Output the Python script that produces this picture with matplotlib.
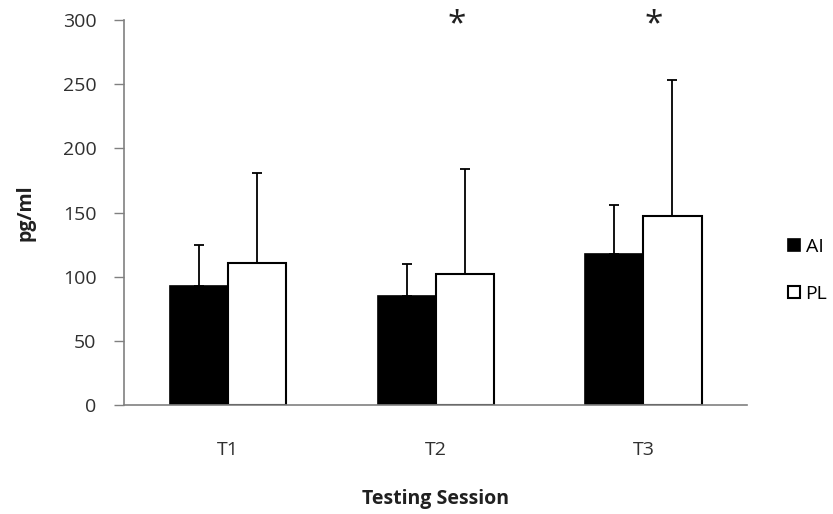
import numpy as np
import matplotlib
matplotlib.use("Agg")
import matplotlib.pyplot as plt

sessions = ["T1", "T2", "T3"]
ai_mean = [93, 85, 118]
ai_err = [32, 25, 38]
pl_mean = [111, 102, 147]
pl_err = [70, 82, 106]
star_pos = [1.1, 2.05]

plt.rcParams['font.family'] = ['Open Sans', 'DejaVu Sans']

fig = plt.figure(figsize=(8.33, 5.14), dpi=100)
ax = fig.add_axes([0.149, 0.212, 0.748, 0.749])

x = np.arange(len(sessions))
w = 0.28
gray = '#808080'

ax.bar(x - w / 2, ai_mean, w, color='black', edgecolor='black', linewidth=1.2,
       yerr=[np.zeros(3), ai_err], capsize=3.5,
       error_kw=dict(ecolor='black', elinewidth=1.3, capthick=1.3), label='AI')
ax.bar(x + w / 2, pl_mean, w, color='white', edgecolor='black', linewidth=1.5,
       yerr=[np.zeros(3), pl_err], capsize=3.5,
       error_kw=dict(ecolor='black', elinewidth=1.3, capthick=1.3), label='PL')

for s in star_pos:
    ax.text(s, 296, '*', ha='center', va='center', fontsize=24, color='#202020')

ax.set_xlim(-0.5, 2.5)
ax.set_ylim(0, 300)
ax.set_yticks(range(0, 301, 50))
ax.set_xticks(x)
ax.set_xticklabels(sessions)
ax.tick_params(axis='x', length=0, pad=26, labelsize=14, labelcolor='#303030')
ax.tick_params(axis='y', length=7, width=1, color=gray, pad=13, labelsize=14, labelcolor='#303030')
for side in ['top', 'right']:
    ax.spines[side].set_visible(False)
for side in ['left', 'bottom']:
    ax.spines[side].set_color(gray)
    ax.spines[side].set_linewidth(1.2)

ax.set_ylabel('pg/ml', fontsize=14, fontweight='bold', color='#202020', va='center')
ax.yaxis.set_label_coords(-0.159, 0.5)
ax.set_xlabel('Testing Session', fontsize=14, fontweight='bold', color='#202020', va='center')
ax.xaxis.set_label_coords(0.5, -0.245)

ax.legend(loc='center left', bbox_to_anchor=(1.053, 0.35), frameon=False,
          handlelength=0.6, handleheight=0.6, handletextpad=0.3, labelspacing=1.5,
          fontsize=14, borderaxespad=0)

fig.savefig('out.png', dpi=100)
